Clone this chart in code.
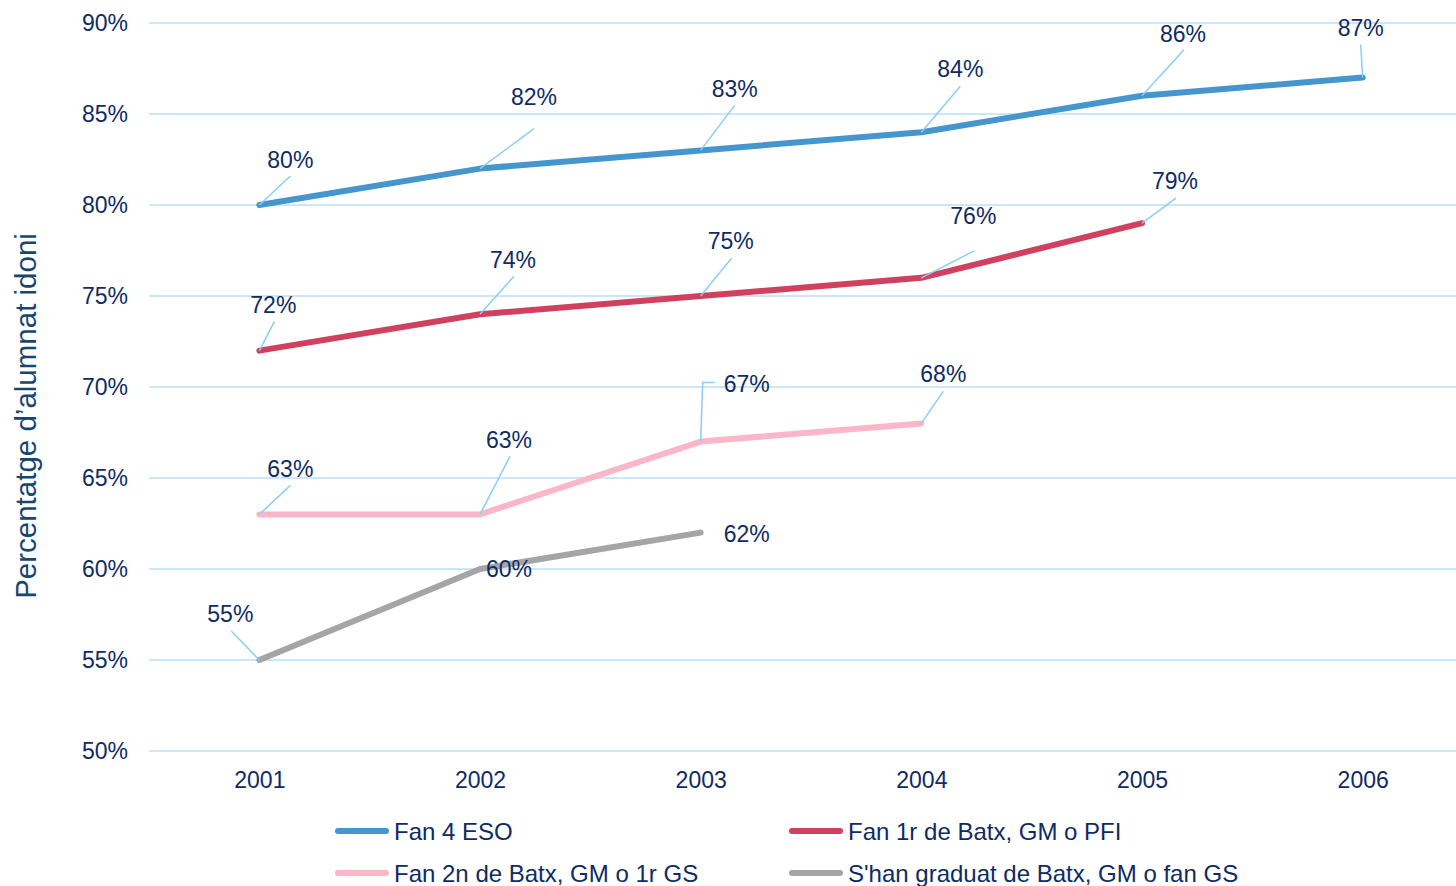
<!DOCTYPE html>
<html>
<head>
<meta charset="utf-8">
<script src="https://cdn.jsdelivr.net/npm/d3@7"></script>
<style>
  body { margin: 0; background: #fff; }
  text { font-family: 'Liberation Sans', Arial, sans-serif; }
</style>
</head>
<body>
<div id="chart"></div>
<script>
const years = ['2001', '2002', '2003', '2004', '2005', '2006']
const yTicks = [50, 55, 60, 65, 70, 75, 80, 85, 90]

const seriesNames = [
  'Fan 4 ESO',
  'Fan 1r de Batx, GM o PFI',
  'Fan 2n de Batx, GM o 1r GS',
  "S'han graduat de Batx, GM o fan GS"
]

const fan4Eso = [80, 82, 83, 84, 86, 87]
const fan1rBatx = [72, 74, 75, 76, 79]
const fan2nBatx = [63, 63, 67, 68]
const graduats = [55, 60, 62]

// label placement (text centre offset from the point, and leader line points)
const labelLayout = [
  [
    { t: [31, -45], l: [[31, -29]] },
    { t: [54, -72], l: [[54, -40]] },
    { t: [34, -62], l: [[34, -45]] },
    { t: [39, -63], l: [[39, -46]] },
    { t: [41, -62], l: [[42, -46]] },
    { t: [-2, -50], l: [[-2, -33]] }
  ],
  [
    { t: [14, -46], l: [[15, -29]] },
    { t: [33, -54], l: [[34, -38]] },
    { t: [30, -55], l: [[31, -38]] },
    { t: [52, -62], l: [[53, -27]] },
    { t: [33, -42], l: [[34, -25]] }
  ],
  [
    { t: [31, -46], l: [[31, -29]] },
    { t: [29, -75], l: [[30, -58]] },
    { t: [46, -58], l: [[2, -59], [14, -59]] },
    { t: [22, -50], l: [[22, -32]] }
  ],
  [
    { t: [-29, -46], l: [[-28, -29]] },
    { t: [29, 0], l: [] },
    { t: [46, 1], l: [] }
  ]
]

const colors = ['#4596cc', '#d0415f', '#fbb7c7', '#a5a5a5']

const series = [fan4Eso, fan1rBatx, fan2nBatx, graduats].map(function(values, i) {
  return {
    name: seriesNames[i],
    color: colors[i],
    values: values.map(function(v, j) {
      return { year: years[j], value: v, layout: labelLayout[i][j] }
    })
  }
})

const width = 1456
const height = 886

const svg = d3
  .select('#chart')
  .append('svg')
  .attr('width', width)
  .attr('height', height)

const xPositionScale = d3
  .scalePoint()
  .domain(years)
  .range([149, 1473])
  .padding(0.5)

const yPositionScale = d3
  .scaleLinear()
  .domain([50, 90])
  .range([751, 23])

const textColor = '#0f2b63'

// gridlines
svg
  .append('g')
  .selectAll('line')
  .data(yTicks)
  .enter()
  .append('line')
  .attr('x1', 149)
  .attr('x2', width)
  .attr('y1', function(d) {
    return yPositionScale(d)
  })
  .attr('y2', function(d) {
    return yPositionScale(d)
  })
  .attr('stroke', '#cce7fa')
  .attr('stroke-width', 2)

const yAxis = d3
  .axisLeft(yPositionScale)
  .tickValues(yTicks)
  .tickSize(0)
  .tickPadding(21)
  .tickFormat(function(d) {
    return d + '%'
  })

svg
  .append('g')
  .attr('class', 'axis y-axis')
  .attr('transform', 'translate(149,0)')
  .call(yAxis)

const xAxis = d3
  .axisBottom(xPositionScale)
  .tickSize(0)
  .tickPadding(21)

svg
  .append('g')
  .attr('class', 'axis x-axis')
  .attr('transform', 'translate(0,751)')
  .call(xAxis)

svg.selectAll('.axis .domain').remove()
svg
  .selectAll('.axis text')
  .attr('font-size', 23)
  .attr('font-family', "'Liberation Sans', Arial, sans-serif")
  .attr('fill', textColor)

svg
  .append('text')
  .attr('transform', 'translate(36,416) rotate(-90)')
  .attr('text-anchor', 'middle')
  .attr('font-size', 29.5)
  .attr('fill', '#17476f')
  .text('Percentatge d\u2019alumnat idoni')

const line = d3
  .line()
  .x(function(d) {
    return xPositionScale(d.year)
  })
  .y(function(d) {
    return yPositionScale(d.value)
  })

svg
  .selectAll('.series-path')
  .data(series)
  .enter()
  .append('path')
  .attr('class', 'series-path')
  .attr('d', function(d) {
    return line(d.values)
  })
  .attr('stroke', function(d) {
    return d.color
  })
  .attr('stroke-width', 6)
  .attr('stroke-linecap', 'round')
  .attr('stroke-linejoin', 'round')
  .attr('fill', 'none')

const points = series.reduce(function(all, s) {
  return all.concat(s.values)
}, [])

svg
  .selectAll('.leader')
  .data(points.filter(function(d) {
    return d.layout.l.length > 0
  }))
  .enter()
  .append('path')
  .attr('class', 'leader')
  .attr('d', function(d) {
    const px = xPositionScale(d.year)
    const py = yPositionScale(d.value)
    return 'M' + px + ',' + py + d.layout.l.map(function(p) {
      return 'L' + (px + p[0]) + ',' + (py + p[1])
    }).join('')
  })
  .attr('stroke', '#8ccdf7')
  .attr('stroke-width', 1.5)
  .attr('fill', 'none')

svg
  .selectAll('.value-label')
  .data(points)
  .enter()
  .append('text')
  .attr('class', 'value-label')
  .attr('x', function(d) {
    return xPositionScale(d.year) + d.layout.t[0]
  })
  .attr('y', function(d) {
    return yPositionScale(d.value) + d.layout.t[1]
  })
  .attr('dy', '0.36em')
  .attr('text-anchor', 'middle')
  .attr('font-size', 23)
  .attr('fill', textColor)
  .text(function(d) {
    return d.value + '%'
  })

// legend
const legendPos = [[336, 831], [790, 831], [336, 873], [790, 873]]

const legend = svg
  .selectAll('.legend')
  .data(series)
  .enter()
  .append('g')
  .attr('class', 'legend')
  .attr('transform', function(d, i) {
    return 'translate(' + legendPos[i][0] + ',' + legendPos[i][1] + ')'
  })

legend
  .append('line')
  .attr('x1', 2)
  .attr('x2', 50)
  .attr('stroke', function(d) {
    return d.color
  })
  .attr('stroke-width', 6)
  .attr('stroke-linecap', 'round')

legend
  .append('text')
  .attr('x', 58)
  .attr('dy', '0.36em')
  .attr('font-size', 24)
  .attr('fill', textColor)
  .text(function(d) {
    return d.name
  })
</script>
</body>
</html>
